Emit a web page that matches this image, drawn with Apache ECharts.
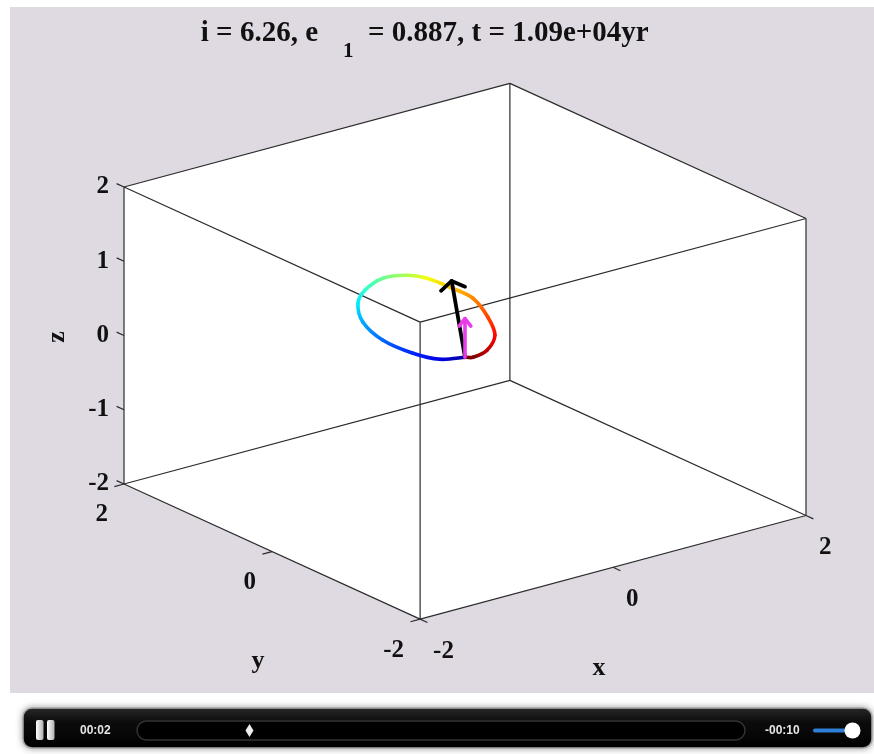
<!DOCTYPE html>
<html>
<head>
<meta charset="utf-8">
<script src="https://cdn.jsdelivr.net/npm/echarts@6/dist/echarts.min.js"></script>
<style>
  html, body { margin: 0; padding: 0; background: #ffffff; }
  #chart { width: 874px; height: 754px; }
</style>
</head>
<body>
<div id="chart"></div>
<script>
// Orbital elements reported in the title
const inclination = 6.26;      // degrees
const eccentricity = 0.887;
const elapsedYears = 10900;

// Axis limits and tick values
const axisLimits = [-2, 2];
const xTicks = [-2, 0, 2];
const yTicks = [-2, 0, 2];
const zTicks = [-2, -1, 0, 1, 2];

// Orbit trace over the last period, starting at pericentre
const orbitX = [-0.086, -0.256, -0.326, -0.315, -0.176, 0.063, 0.286, 0.557, 0.736, 0.809, 0.814, 0.791, 0.610, 0.396, 0.140, -0.039];
const orbitY = [-0.112, 0.004, 0.278, 0.698, 1.149, 1.528, 1.724, 1.835, 1.744, 1.568, 1.265, 0.924, 0.485, 0.112, -0.115, -0.159];
const orbitZ = [0.000, -0.020, -0.039, -0.059, -0.070, -0.070, -0.062, -0.046, -0.027, -0.013, 0.002, 0.017, 0.024, 0.026, 0.017, 0.005];

// Angular momentum vectors drawn from the body's position
const innerMomentum = [-0.10, 0.05, 1.04];
const outerMomentum = [0.00, 0.00, 0.52];

// Player state
const playedTime = '00:02';
const remainingTime = '-00:10';
const playedFraction = 0.185;
const volumeLevel = 1;

// ---- 3D view (orthographic, MATLAB-style azimuth/elevation) ----
const DEG = Math.PI / 180;
const view = { azimuth: -37.5, elevation: 20.5 };
const frame = { cx: 465, cy: 351.25, scale: 121.6, zScale: 74.25 };

function project(p) {
  const a = view.azimuth * DEG, e = view.elevation * DEG;
  const u = p[0] * Math.cos(a) + p[1] * Math.sin(a);
  const w = (-p[0] * Math.sin(a) + p[1] * Math.cos(a)) * Math.sin(e);
  return [frame.cx + frame.scale * u, frame.cy - frame.scale * w - frame.zScale * p[2]];
}
function add(a, b) { return [a[0] + b[0], a[1] + b[1], a[2] + b[2]]; }

function jet(t) {
  const c = v => Math.max(0, Math.min(1, v));
  const r = c(1.5 - Math.abs(4 * t - 3));
  const g = c(1.5 - Math.abs(4 * t - 2));
  const b = c(1.5 - Math.abs(4 * t - 1));
  return 'rgb(' + Math.round(r * 255) + ',' + Math.round(g * 255) + ',' + Math.round(b * 255) + ')';
}

function matlabExp(v) {
  const s = v.toExponential(2);
  const parts = s.split('e');
  const sign = parts[1][0];
  const digits = parts[1].slice(1).padStart(2, '0');
  return parts[0] + 'e' + sign + digits;
}

const [lo, hi] = axisLimits;
const corners = [];
for (let i = 0; i < 8; i++) corners.push([i & 1 ? hi : lo, i & 2 ? hi : lo, i & 4 ? hi : lo]);
const edges = [];
for (let i = 0; i < 8; i++) for (let j = i + 1; j < 8; j++) {
  const d = i ^ j;
  if (d === 1 || d === 2 || d === 4) edges.push([i, j]);
}
const outline = [[lo, hi, hi], [hi, hi, hi], [hi, lo, hi], [hi, lo, lo], [lo, lo, lo], [lo, hi, lo]];

const serif = size => 'bold ' + size + 'px "Liberation Serif", "Times New Roman", serif';
const sans = size => 'bold ' + size + 'px "Liberation Sans", Arial, sans-serif';

// Tick marks run outward along the neighbouring axis direction
const tickLen = 0.1;
const ticks = [];
zTicks.forEach(v => ticks.push({ at: [lo, hi, v], dir: [0, tickLen, 0], text: String(v), align: 'right', off: [-15, 0] }));
yTicks.forEach(v => ticks.push({ at: [lo, v, lo], dir: [-tickLen, 0, 0], text: String(v), align: 'right', off: [-16, 31] }));
xTicks.forEach(v => ticks.push({ at: [v, lo, lo], dir: [0, -tickLen, 0], text: String(v), align: 'left', off: [13, 32] }));

const axisNames = [
  { text: 'x', at: [0, lo, lo], off: [-14, 101], rot: 0 },
  { text: 'y', at: [lo, 0, lo], off: [-14, 110], rot: 0 },
  { text: 'z', at: [lo, hi, 0], off: [-67, 1.5], rot: Math.PI / 2 }
];

const orbitPts = orbitX.map((x, i) => project([x, orbitY[i], orbitZ[i]]));
const bodyPos = [orbitX[0], orbitY[0], orbitZ[0]];
const arrows = [
  { vec: innerMomentum, color: '#000000', head: 14.5, angle: 57, width: 3.8 },
  { vec: outerMomentum, color: '#e83ce8', head: 9.5, angle: 38, width: 3.6 }
];

const chart = echarts.init(document.getElementById('chart'));

const option = {
  animation: false,
  backgroundColor: '#ffffff',
  grid: { left: 10, top: 7, right: 0, bottom: 61, show: true, backgroundColor: '#dfdae2', borderWidth: 0 },
  xAxis: { type: 'value', min: 10, max: 874, show: false },
  yAxis: { type: 'value', min: 7, max: 693, inverse: true, show: false },
  series: [
    {
      // white back planes of the box
      type: 'custom', z: 1, silent: true,
      data: [project([0, 0, 0])],
      renderItem: (params, api) => ({
        type: 'polygon',
        shape: { points: outline.map(c => api.coord(project(c))) },
        style: { fill: '#ffffff', stroke: null }
      })
    },
    {
      // box edges
      type: 'custom', z: 2, silent: true,
      data: edges.map(e => project(corners[e[0]]).concat(project(corners[e[1]]))),
      encode: { x: [0, 2], y: [1, 3] },
      renderItem: (params, api) => {
        const a = api.coord([api.value(0), api.value(1)]);
        const b = api.coord([api.value(2), api.value(3)]);
        return { type: 'line', shape: { x1: a[0], y1: a[1], x2: b[0], y2: b[1] },
                 style: { stroke: '#2b2b2b', lineWidth: 1.2 } };
      }
    },
    {
      // tick marks and their labels
      type: 'custom', z: 3, silent: true,
      data: ticks.map(t => project(t.at).concat(project(add(t.at, t.dir)))),
      encode: { x: [0, 2], y: [1, 3] },
      renderItem: (params, api) => {
        const t = ticks[params.dataIndex];
        const a = api.coord([api.value(0), api.value(1)]);
        const b = api.coord([api.value(2), api.value(3)]);
        return {
          type: 'group',
          children: [
            { type: 'line', shape: { x1: a[0], y1: a[1], x2: b[0], y2: b[1] },
              style: { stroke: '#2b2b2b', lineWidth: 1.2 } },
            { type: 'text', x: a[0] + t.off[0], y: a[1] + t.off[1],
              style: { text: t.text, font: serif(25), fill: '#111111', align: t.align, verticalAlign: 'middle' } }
          ]
        };
      }
    },
    {
      // axis names
      type: 'custom', z: 3, silent: true,
      data: axisNames.map(n => project(n.at)),
      renderItem: (params, api) => {
        const n = axisNames[params.dataIndex];
        const a = api.coord([api.value(0), api.value(1)]);
        return { type: 'text', x: a[0] + n.off[0], y: a[1] + n.off[1], rotation: n.rot,
                 style: { text: n.text, font: serif(26), fill: '#111111', align: 'center', verticalAlign: 'middle' } };
      }
    },
    {
      // orbit trace coloured by phase
      type: 'custom', z: 4, silent: true,
      data: orbitPts.map((p, i) => [p[0], p[1], i]),
      renderItem: (params, api) => {
        const n = orbitPts.length;
        const i = params.dataIndex;
        const P = k => api.coord(orbitPts[(k + n) % n]);
        const p0 = P(i - 1), p1 = P(i), p2 = P(i + 1), p3 = P(i + 2);
        const phase = k => Math.min(1, (k + 0.5) / (n - 0.5));
        const c1 = i < n - 1 ? jet(phase(i)) : jet(1);
        const c2 = i < n - 1 ? jet(phase(i + 1)) : jet(1);
        return {
          type: 'bezierCurve',
          shape: {
            x1: p1[0], y1: p1[1], x2: p2[0], y2: p2[1],
            cpx1: p1[0] + (p2[0] - p0[0]) / 6, cpy1: p1[1] + (p2[1] - p0[1]) / 6,
            cpx2: p2[0] - (p3[0] - p1[0]) / 6, cpy2: p2[1] - (p3[1] - p1[1]) / 6
          },
          style: {
            fill: null, lineWidth: 3.6, lineCap: 'round',
            stroke: { type: 'linear', x: p1[0], y: p1[1], x2: p2[0], y2: p2[1], global: true,
                      colorStops: [{ offset: 0, color: c1 }, { offset: 1, color: c2 }] }
          }
        };
      }
    },
    {
      // angular momentum arrows
      type: 'custom', z: 5, silent: true,
      data: arrows.map(a => project(bodyPos).concat(project(add(bodyPos, a.vec)))),
      encode: { x: [0, 2], y: [1, 3] },
      renderItem: (params, api) => {
        const ar = arrows[params.dataIndex];
        const b = api.coord([api.value(0), api.value(1)]);
        const t = api.coord([api.value(2), api.value(3)]);
        const ang = Math.atan2(b[1] - t[1], b[0] - t[0]);
        const w1 = [t[0] + ar.head * Math.cos(ang + ar.angle * DEG), t[1] + ar.head * Math.sin(ang + ar.angle * DEG)];
        const w2 = [t[0] + ar.head * Math.cos(ang - ar.angle * DEG), t[1] + ar.head * Math.sin(ang - ar.angle * DEG)];
        const st = { stroke: ar.color, lineWidth: ar.width, lineCap: 'round', lineJoin: 'round', fill: null };
        return {
          type: 'group',
          children: [
            { type: 'polyline', shape: { points: [b, t] }, style: st },
            { type: 'polyline', shape: { points: [w1, t, w2] }, style: st }
          ]
        };
      }
    }
  ],
  graphic: [
    // title
    { type: 'text', x: 318, y: 34, z: 10,
      style: { text: 'i = ' + inclination.toFixed(2) + ', e', font: serif(29), fill: '#111111', align: 'right', verticalAlign: 'middle' } },
    { type: 'text', x: 343, y: 52, z: 10,
      style: { text: '1', font: serif(21), fill: '#111111', align: 'left', verticalAlign: 'middle' } },
    { type: 'text', x: 368, y: 34, z: 10,
      style: { text: '= ' + eccentricity.toFixed(3) + ', t = ' + matlabExp(elapsedYears) + 'yr', font: serif(29), fill: '#111111', align: 'left', verticalAlign: 'middle' } },

    // player bar
    { type: 'rect', z: 10, shape: { x: 23, y: 708, width: 849, height: 40, r: 9 },
      style: { fill: { type: 'linear', x: 0, y: 0, x2: 0, y2: 1,
               colorStops: [{ offset: 0, color: '#2c2c2c' }, { offset: 0.35, color: '#0c0c0c' }, { offset: 1, color: '#000000' }] },
               stroke: '#a8a8a8', lineWidth: 1.5, shadowBlur: 6, shadowColor: 'rgba(0,0,0,0.35)' } },
    { type: 'rect', z: 11, shape: { x: 36, y: 720, width: 7.5, height: 20, r: 2 },
      style: { fill: { type: 'linear', x: 0, y: 0, x2: 1, y2: 0, colorStops: [{ offset: 0, color: '#ffffff' }, { offset: 1, color: '#b0b0b0' }] } } },
    { type: 'rect', z: 11, shape: { x: 47, y: 720, width: 7.5, height: 20, r: 2 },
      style: { fill: { type: 'linear', x: 0, y: 0, x2: 1, y2: 0, colorStops: [{ offset: 0, color: '#ffffff' }, { offset: 1, color: '#b0b0b0' }] } } },
    { type: 'text', z: 11, x: 80, y: 730.5,
      style: { text: playedTime, font: sans(12), fill: '#e6e6e6', align: 'left', verticalAlign: 'middle' } },
    { type: 'rect', z: 11, shape: { x: 137, y: 721, width: 608, height: 19, r: 9.5 },
      style: { fill: '#000000', stroke: '#333333', lineWidth: 1.5 } },
    { type: 'polygon', z: 12,
      shape: { points: [[137 + 608 * playedFraction, 724], [141 + 608 * playedFraction, 730.5], [137 + 608 * playedFraction, 737], [133 + 608 * playedFraction, 730.5]] },
      style: { fill: '#eeeeee' } },
    { type: 'text', z: 11, x: 765, y: 730.5,
      style: { text: remainingTime, font: sans(12), fill: '#e6e6e6', align: 'left', verticalAlign: 'middle' } },
    { type: 'line', z: 11, shape: { x1: 815, y1: 730.5, x2: 815 + 37 * volumeLevel, y2: 730.5 },
      style: { stroke: '#2f7fd8', lineWidth: 4, lineCap: 'round' } },
    { type: 'circle', z: 12, shape: { cx: 815 + 37.5 * volumeLevel, cy: 730.5, r: 8 },
      style: { fill: '#ffffff' } }
  ]
};

chart.setOption(option);
</script>
</body>
</html>
